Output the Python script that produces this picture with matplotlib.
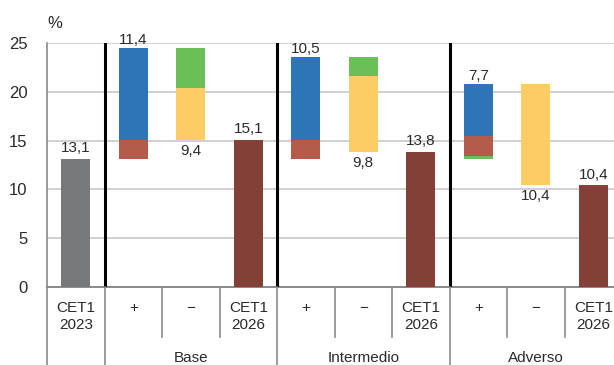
import matplotlib.pyplot as plt
from matplotlib.transforms import blended_transform_factory

plt.rcParams['font.family'] = ['Liberation Sans', 'DejaVu Sans']

# Datos del gráfico (puntos porcentuales)
escenarios = ['Base', 'Intermedio', 'Adverso']
cet1_2023 = 13.1
verde_pos = [0.0, 0.0, 0.3]
rojo = [2.0, 2.0, 2.1]
azul = [9.4, 8.5, 5.3]
verde_neg = [4.1, 2.0, 0.0]
amarillo = [5.3, 7.8, 10.4]
total_pos = [11.4, 10.5, 7.7]
total_neg = [9.4, 9.8, 10.4]
cet1_2026 = [15.1, 13.8, 10.4]
cat_labels = ['CET1\n2023'] + ['+', '\u2212', 'CET1\n2026'] * 3

c_gris = '#76787a'
c_azul = '#2e75b8'
c_rojo = '#b35a48'
c_verde = '#6abf56'
c_amar = '#fdcc63'
c_gran = '#843f36'
c_txt = '#2a2a2a'

fig = plt.figure(figsize=(6.14, 3.65), dpi=100)
ax = fig.add_axes([47 / 614, 78 / 365, 567 / 614, 244 / 365])
w = 0.5
fs = 11

ax.bar(0, cet1_2023, w, color=c_gris, zorder=3)
ax.text(0, cet1_2023 + 0.4, f'{cet1_2023:.1f}'.replace('.', ','),
        ha='center', va='bottom', fontsize=fs, color=c_txt)

for i in range(3):
    xp = 1 + 3 * i
    xm = xp + 1
    xf = xp + 2
    # barra de aportaciones positivas
    b = cet1_2023
    for val, col in [(verde_pos[i], c_verde), (rojo[i], c_rojo), (azul[i], c_azul)]:
        if val > 0:
            ax.bar(xp, val, w, bottom=b, color=col, zorder=3)
            b += val
    top = cet1_2023 + total_pos[i]
    ax.text(xp, top + 0.1, f'{total_pos[i]:.1f}'.replace('.', ','),
            ha='center', va='bottom', fontsize=fs, color=c_txt)
    # barra de detracciones
    t = top
    for val, col in [(verde_neg[i], c_verde), (amarillo[i], c_amar)]:
        if val > 0:
            ax.bar(xm, -val, w, bottom=t, color=col, zorder=3)
            t -= val
    ax.text(xm, top - total_neg[i] - 0.4, f'{total_neg[i]:.1f}'.replace('.', ','),
            ha='center', va='top', fontsize=fs, color=c_txt)
    # CET1 final
    ax.bar(xf, cet1_2026[i], w, color=c_gran, zorder=3)
    ax.text(xf, cet1_2026[i] + 0.4, f'{cet1_2026[i]:.1f}'.replace('.', ','),
            ha='center', va='bottom', fontsize=fs, color=c_txt)

ax.set_xlim(-0.5, 9.36)
ax.set_ylim(0, 25)
ax.set_yticks([0, 5, 10, 15, 20, 25])
ax.yaxis.grid(True, color='#c8c8c8', lw=1.2, zorder=0)
ax.tick_params(axis='y', length=0, labelsize=fs + 1, pad=14, colors=c_txt)
ax.set_xticks([])
for s in ['top', 'right']:
    ax.spines[s].set_visible(False)
ax.spines['left'].set_visible(False)
ax.spines['bottom'].set_color('#8a8a8a')
ax.spines['bottom'].set_linewidth(1.4)

# separadores de escenario
for xs in [0.5, 3.5, 6.5]:
    ax.plot([xs, xs], [0, 25], color='black', lw=2.2, zorder=4)

trans = blended_transform_factory(ax.transData, ax.transAxes)
ymin_inner = -50 / 244
ymin_outer = -78 / 244
for xs in [-0.5, 0.5, 3.5, 6.5]:
    ax.plot([xs, xs], [ymin_outer, 0 if xs != -0.5 else 1], color='#8a8a8a', lw=1.2,
            transform=trans, clip_on=False, zorder=5)
for xs in [1.5, 2.5, 4.5, 5.5, 7.5, 8.5]:
    ax.plot([xs, xs], [ymin_inner, 0], color='#8a8a8a', lw=1.2,
            transform=trans, clip_on=False)

for k, lab in enumerate(cat_labels):
    ax.text(k, -14 / 244, lab, transform=trans, ha='center', va='top',
            fontsize=fs, color=c_txt, linespacing=1.3)
for i, esc in enumerate(escenarios):
    ax.text(2 + 3 * i, -71 / 244, esc, transform=trans, ha='center', va='center',
            fontsize=fs, color=c_txt)

fig.text(47 / 614, 1 - 23 / 365, '%', ha='left', va='center', fontsize=fs + 1,
         color=c_txt)

fig.savefig('out.png', dpi=100)
